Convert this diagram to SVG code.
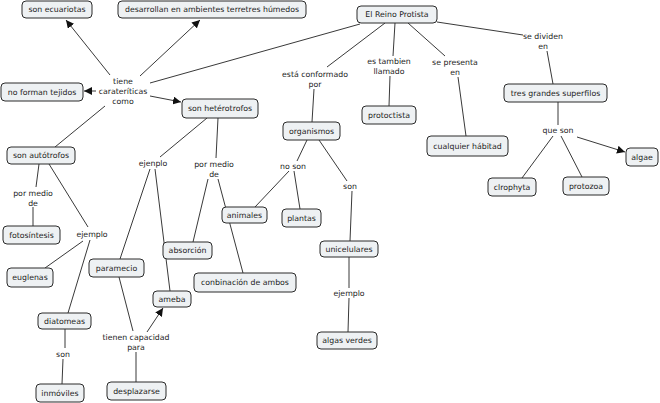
<svg xmlns="http://www.w3.org/2000/svg" width="660" height="403" viewBox="0 0 660 403">
<defs>
<style>
.n rect{fill:#eef1f3;stroke:#2a2a2a;stroke-width:1}
text{font-family:"DejaVu Sans","Verdana",sans-serif;font-size:7.8px;fill:#222;text-anchor:middle}
#connectors line{stroke:#222;stroke-width:0.9}
</style>
<marker id="ah" viewBox="0 0 10 10" refX="10" refY="5" markerWidth="8" markerHeight="8" markerUnits="userSpaceOnUse" orient="auto">
<path d="M0,0 L10,5 L0,10 z" fill="#111"/>
</marker>
</defs>
<rect x="0" y="0" width="660" height="403" fill="#fff"/>
<g id="connectors">
<line x1="360" y1="24" x2="150" y2="83"/>
<line x1="110" y1="75" x2="66" y2="20" marker-end="url(#ah)"/>
<line x1="140" y1="76" x2="200" y2="20" marker-end="url(#ah)"/>
<line x1="96" y1="91" x2="84" y2="91" marker-end="url(#ah)"/>
<line x1="150" y1="96" x2="181" y2="102" marker-end="url(#ah)"/>
<line x1="105" y1="106" x2="55" y2="147"/>
<line x1="207" y1="118" x2="160" y2="157"/>
<line x1="218" y1="118" x2="216" y2="158"/>
<line x1="150" y1="169" x2="120" y2="259"/>
<line x1="155" y1="169" x2="170" y2="291"/>
<line x1="208" y1="179" x2="193" y2="242"/>
<line x1="218" y1="179" x2="243" y2="273"/>
<line x1="385" y1="23" x2="327" y2="67"/>
<line x1="314" y1="89" x2="312" y2="122"/>
<line x1="395" y1="23" x2="393" y2="56"/>
<line x1="390" y1="76" x2="389" y2="106"/>
<line x1="408" y1="23" x2="445" y2="56"/>
<line x1="458" y1="77" x2="466" y2="136"/>
<line x1="437" y1="22" x2="523" y2="35"/>
<line x1="547" y1="51" x2="553" y2="84"/>
<line x1="558" y1="102" x2="558" y2="125"/>
<line x1="577" y1="137" x2="625" y2="152" marker-end="url(#ah)"/>
<line x1="553" y1="136" x2="522" y2="178"/>
<line x1="561" y1="136" x2="582" y2="177"/>
<line x1="307" y1="140" x2="297" y2="161"/>
<line x1="289" y1="171" x2="255" y2="207"/>
<line x1="294" y1="171" x2="300" y2="209"/>
<line x1="319" y1="140" x2="347" y2="181"/>
<line x1="352" y1="191" x2="350" y2="241"/>
<line x1="349" y1="257" x2="349" y2="288"/>
<line x1="349" y1="298" x2="348" y2="332"/>
<line x1="39" y1="164" x2="36" y2="187"/>
<line x1="33" y1="207" x2="33" y2="226"/>
<line x1="49" y1="164" x2="88" y2="227"/>
<line x1="83" y1="241" x2="45" y2="268"/>
<line x1="90" y1="240" x2="68" y2="313"/>
<line x1="65" y1="329" x2="65" y2="348"/>
<line x1="63" y1="359" x2="62" y2="384"/>
<line x1="119" y1="277" x2="133" y2="331"/>
<line x1="147" y1="332" x2="163" y2="308" marker-end="url(#ah)"/>
<line x1="136" y1="352" x2="136" y2="382"/>
</g>
<g id="labels">
<text x="123" y="84">tiene</text>
<text x="123" y="94">carateríticas</text>
<text x="123" y="104">como</text>
<text x="153" y="166">ejenplo</text>
<text x="214" y="167">por medio</text>
<text x="214" y="177">de</text>
<text x="315" y="77">está conformado</text>
<text x="315" y="87">por</text>
<text x="389" y="64">es tambien</text>
<text x="389" y="74">llamado</text>
<text x="455" y="65">se presenta</text>
<text x="455" y="75">en</text>
<text x="543" y="39">se dividen</text>
<text x="543" y="49">en</text>
<text x="558" y="133">que son</text>
<text x="293" y="169">no son</text>
<text x="350" y="189">son</text>
<text x="349" y="296">ejemplo</text>
<text x="33" y="196">por medio</text>
<text x="33" y="206">de</text>
<text x="92" y="237">ejemplo</text>
<text x="63" y="357">son</text>
<text x="136" y="340">tienen capacidad</text>
<text x="136" y="350">para</text>
</g>
<g id="n1" class="n"><rect x="22" y="1" width="70" height="17" rx="4"/><text x="57" y="12.3">son ecuariotas</text></g>
<g id="n2" class="n"><rect x="118" y="1" width="188" height="17" rx="4"/><text x="212" y="12.3">desarrollan en ambientes terretres húmedos</text></g>
<g id="n3" class="n"><rect x="357" y="6" width="80" height="17" rx="4"/><text x="397" y="17.3">El Reino Protista</text></g>
<g id="n4" class="n"><rect x="1" y="83" width="82" height="18" rx="4"/><text x="42" y="94.8">no forman tejidos</text></g>
<g id="n5" class="n"><rect x="182" y="99" width="76" height="19" rx="4"/><text x="220" y="111.3">son hetérotrofos</text></g>
<g id="n6" class="n"><rect x="7" y="147" width="68" height="17" rx="4"/><text x="41" y="158.3">son autótrofos</text></g>
<g id="n7" class="n"><rect x="283" y="122" width="57" height="18" rx="4"/><text x="311.5" y="133.8">organismos</text></g>
<g id="n8" class="n"><rect x="362" y="106" width="54" height="18" rx="4"/><text x="389" y="117.8">protoctista</text></g>
<g id="n9" class="n"><rect x="427" y="136" width="81" height="20" rx="4"/><text x="467.5" y="148.8">cualquier hábitad</text></g>
<g id="n10" class="n"><rect x="504" y="84" width="103" height="18" rx="4"/><text x="555.5" y="95.8">tres grandes superfilos</text></g>
<g id="n11" class="n"><rect x="626" y="148" width="32" height="18" rx="4"/><text x="642" y="159.8">algae</text></g>
<g id="n12" class="n"><rect x="488" y="178" width="48" height="18" rx="4"/><text x="512" y="189.8">clrophyta</text></g>
<g id="n13" class="n"><rect x="563" y="177" width="46" height="18" rx="4"/><text x="586" y="188.8">protozoa</text></g>
<g id="n14" class="n"><rect x="222" y="207" width="45" height="16" rx="4"/><text x="244.5" y="217.8">animales</text></g>
<g id="n15" class="n"><rect x="282" y="209" width="39" height="18" rx="4"/><text x="301.5" y="220.8">plantas</text></g>
<g id="n16" class="n"><rect x="320" y="241" width="58" height="16" rx="4"/><text x="349" y="251.8">unicelulares</text></g>
<g id="n17" class="n"><rect x="317" y="332" width="60" height="17" rx="4"/><text x="347" y="343.3">algas verdes</text></g>
<g id="n18" class="n"><rect x="194" y="273" width="102" height="19" rx="4"/><text x="245" y="285.3">conbinación de ambos</text></g>
<g id="n19" class="n"><rect x="163" y="242" width="49" height="17" rx="4"/><text x="187.5" y="253.3">absorción</text></g>
<g id="n20" class="n"><rect x="89" y="259" width="55" height="18" rx="4"/><text x="116.5" y="270.8">paramecio</text></g>
<g id="n21" class="n"><rect x="153" y="291" width="38" height="16" rx="4"/><text x="172" y="301.8">ameba</text></g>
<g id="n22" class="n"><rect x="3" y="226" width="57" height="18" rx="4"/><text x="31.5" y="237.8">fotosíntesis</text></g>
<g id="n23" class="n"><rect x="7" y="268" width="46" height="19" rx="4"/><text x="30" y="280.3">euglenas</text></g>
<g id="n24" class="n"><rect x="38" y="313" width="53" height="16" rx="4"/><text x="64.5" y="323.8">diatomeas</text></g>
<g id="n25" class="n"><rect x="36" y="384" width="48" height="18" rx="4"/><text x="60" y="395.8">inmóviles</text></g>
<g id="n26" class="n"><rect x="107" y="382" width="59" height="18" rx="4"/><text x="136.5" y="393.8">desplazarse</text></g>
</svg>
